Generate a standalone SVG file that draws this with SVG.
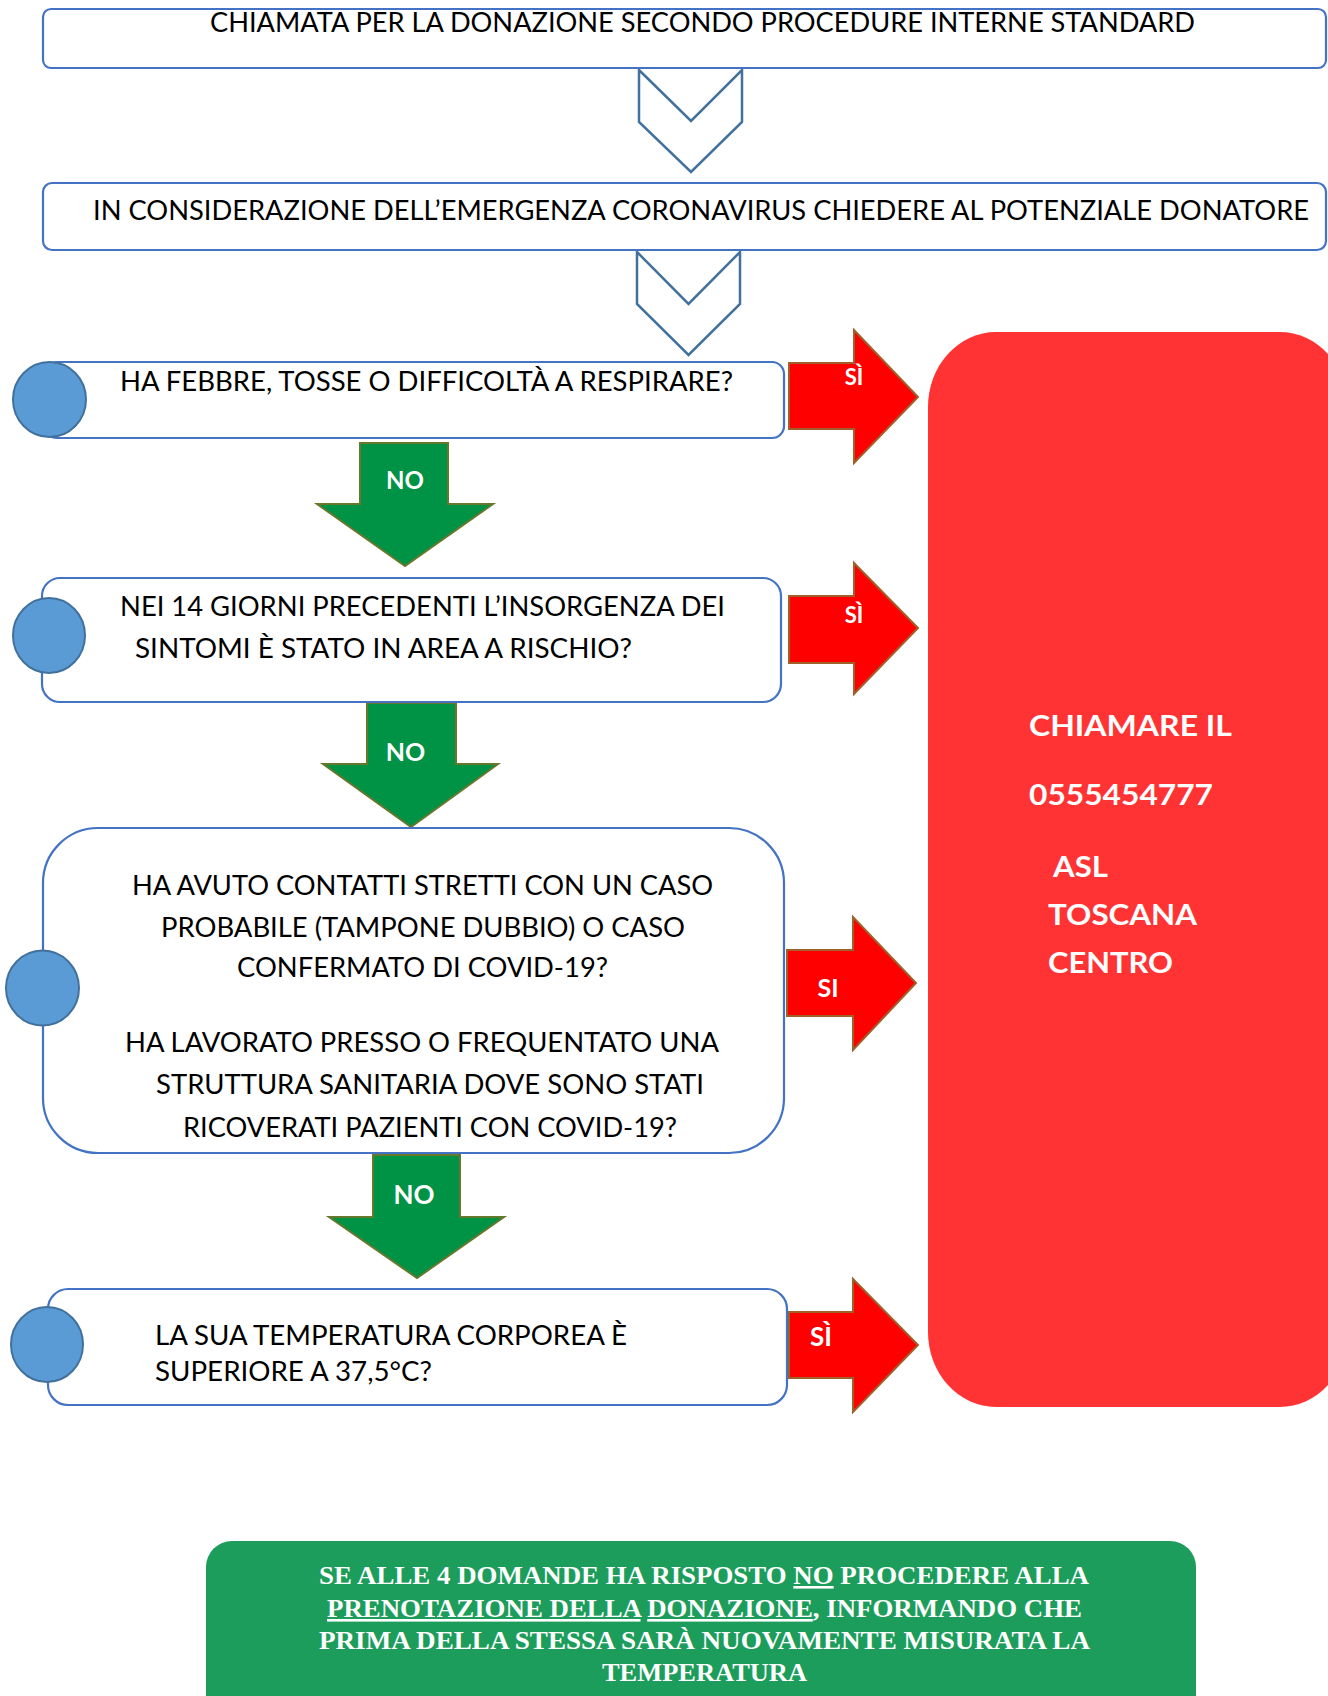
<svg xmlns="http://www.w3.org/2000/svg" width="1328" height="1696" viewBox="0 0 1328 1696">
<style>
.box{fill:#fff;stroke:#4472C4;stroke-width:2.2}
.dot{fill:#5B9BD5;stroke:#41719C;stroke-width:2}
.chev{fill:#fff;stroke:#41719C;stroke-width:2.5;stroke-linejoin:miter}
.red{fill:#FF0000;stroke:#A0602A;stroke-width:2}
.grn{fill:#009245;stroke:#66782C;stroke-width:2}
.t{font-family:Lato,"Open Sans","Liberation Sans",sans-serif;font-size:26px;fill:#000}
.lbl{font-family:Lato,"Open Sans","Liberation Sans",sans-serif;font-weight:bold;fill:#fff;text-anchor:middle}
.rt{font-family:Lato,"Open Sans","Liberation Sans",sans-serif;font-weight:bold;font-size:29px;fill:#fff}
.gt{font-family:"Liberation Serif","Times New Roman",serif;font-weight:bold;font-size:26px;fill:#fff}
</style>
<rect width="1328" height="1696" fill="#fff"/>

<g id="connectors">
  <path class="chev" d="M639,70 L691,121 L742,70 L742,122 L691,172 L639,122 Z"/>
  <path class="chev" d="M637,252 L688.5,304 L740,252 L740,304 L688.5,355 L637,304 Z"/>
  <g id="si1"><path class="red" d="M789,363 L854,363 L854,330 L918,397 L854,463 L854,429 L789,429 Z"/><text class="lbl" x="854" y="385" font-size="22">SÌ</text></g>
  <g id="si2"><path class="red" d="M789,596 L854,596 L854,563 L918,628 L854,694 L854,663 L789,663 Z"/><text class="lbl" x="854" y="623" font-size="22">SÌ</text></g>
  <g id="si3"><path class="red" d="M787,950 L853,950 L853,917 L916,983 L853,1050 L853,1016 L787,1016 Z"/><text class="lbl" x="828" y="997" font-size="25">SI</text></g>
  <g id="si4"><path class="red" d="M789,1312 L853,1312 L853,1279 L918,1345 L853,1412 L853,1378 L789,1378 Z"/><text class="lbl" x="821" y="1346" font-size="26">SÌ</text></g>
  <g id="no1"><path class="grn" d="M360,443 L448,443 L448,504 L493,504 L405,566 L317,504 L360,504 Z"/><text class="lbl" x="405" y="489" font-size="24">NO</text></g>
  <g id="no2"><path class="grn" d="M367,703 L456,703 L456,764 L498,764 L411,827 L323,764 L367,764 Z"/><text class="lbl" x="405.5" y="761" font-size="25">NO</text></g>
  <g id="no3"><path class="grn" d="M373,1155 L460,1155 L460,1217 L504,1217 L417,1278 L329,1217 L373,1217 Z"/><text class="lbl" x="414" y="1204" font-size="26">NO</text></g>
</g>

<g id="n1">
  <rect class="box" x="43" y="9" width="1283" height="59" rx="8"/>
  <text class="t" x="210" y="32" textLength="985" lengthAdjust="spacingAndGlyphs">CHIAMATA PER LA DONAZIONE SECONDO PROCEDURE INTERNE STANDARD</text>
</g>
<g id="n2">
  <rect class="box" x="43" y="183" width="1283" height="67" rx="9"/>
  <text class="t" x="93" y="220" textLength="1216" lengthAdjust="spacingAndGlyphs">IN CONSIDERAZIONE DELL’EMERGENZA CORONAVIRUS CHIEDERE AL POTENZIALE DONATORE</text>
</g>
<g id="n3">
  <rect class="box" x="45" y="362" width="739" height="76" rx="12"/>
  <ellipse class="dot" cx="49.5" cy="399.5" rx="36.5" ry="37.5"/>
  <text class="t" x="120" y="391" textLength="613" lengthAdjust="spacingAndGlyphs">HA FEBBRE, TOSSE O DIFFICOLTÀ A RESPIRARE?</text>
</g>
<g id="n4">
  <rect class="box" x="42" y="578" width="739" height="124" rx="18"/>
  <ellipse class="dot" cx="49" cy="635.5" rx="36" ry="37.5"/>
  <text class="t" x="120" y="616" textLength="605" lengthAdjust="spacingAndGlyphs">NEI 14 GIORNI PRECEDENTI L’INSORGENZA DEI</text>
  <text class="t" x="135" y="658" textLength="497" lengthAdjust="spacingAndGlyphs">SINTOMI È STATO IN AREA A RISCHIO?</text>
</g>
<g id="n5">
  <rect class="box" x="43" y="828" width="741" height="325" rx="55"/>
  <ellipse class="dot" cx="42.5" cy="988" rx="36.5" ry="37.5"/>
  <text class="t" x="132" y="895" textLength="581" lengthAdjust="spacingAndGlyphs">HA AVUTO CONTATTI STRETTI CON UN CASO</text>
  <text class="t" x="161" y="937" textLength="524" lengthAdjust="spacingAndGlyphs">PROBABILE (TAMPONE DUBBIO) O CASO</text>
  <text class="t" x="237" y="977" textLength="371" lengthAdjust="spacingAndGlyphs">CONFERMATO DI COVID-19?</text>
  <text class="t" x="125" y="1052" textLength="594" lengthAdjust="spacingAndGlyphs">HA LAVORATO PRESSO O FREQUENTATO UNA</text>
  <text class="t" x="156" y="1094" textLength="548" lengthAdjust="spacingAndGlyphs">STRUTTURA SANITARIA DOVE SONO STATI</text>
  <text class="t" x="183" y="1137" textLength="494" lengthAdjust="spacingAndGlyphs">RICOVERATI PAZIENTI CON COVID-19?</text>
</g>
<g id="n6">
  <rect class="box" x="48" y="1289" width="739" height="116" rx="20"/>
  <ellipse class="dot" cx="47" cy="1344.5" rx="36" ry="37.5"/>
  <text class="t" x="155" y="1345" textLength="472" lengthAdjust="spacingAndGlyphs">LA SUA TEMPERATURA CORPOREA È</text>
  <text class="t" x="155" y="1381" textLength="277" lengthAdjust="spacingAndGlyphs">SUPERIORE A 37,5°C?</text>
</g>
<g id="call">
  <rect x="928" y="332" width="420" height="1075" rx="68" ry="75" fill="#FF3333"/>
  <text class="rt" x="1029" y="736" textLength="203" lengthAdjust="spacingAndGlyphs">CHIAMARE IL</text>
  <text class="rt" x="1029" y="805" textLength="184" lengthAdjust="spacingAndGlyphs">0555454777</text>
  <text class="rt" x="1053" y="877" textLength="55" lengthAdjust="spacingAndGlyphs">ASL</text>
  <text class="rt" x="1048" y="925" textLength="149" lengthAdjust="spacingAndGlyphs">TOSCANA</text>
  <text class="rt" x="1048" y="973" textLength="125" lengthAdjust="spacingAndGlyphs">CENTRO</text>
</g>
<g id="ok">
  <rect x="206" y="1541" width="990" height="180" rx="26" fill="#1D9D5B"/>
  <text class="gt" x="319" y="1584" textLength="770" lengthAdjust="spacingAndGlyphs">SE ALLE 4 DOMANDE HA RISPOSTO <tspan text-decoration="underline">NO</tspan> PROCEDERE ALLA</text>
  <text class="gt" x="327" y="1617" textLength="755" lengthAdjust="spacingAndGlyphs"><tspan text-decoration="underline">PRENOTAZIONE DELLA</tspan> <tspan text-decoration="underline">DONAZIONE</tspan>, INFORMANDO CHE</text>
  <text class="gt" x="319" y="1649" textLength="771" lengthAdjust="spacingAndGlyphs">PRIMA DELLA STESSA SARÀ NUOVAMENTE MISURATA LA</text>
  <text class="gt" x="602" y="1681" textLength="205" lengthAdjust="spacingAndGlyphs">TEMPERATURA</text>
</g>
</svg>
